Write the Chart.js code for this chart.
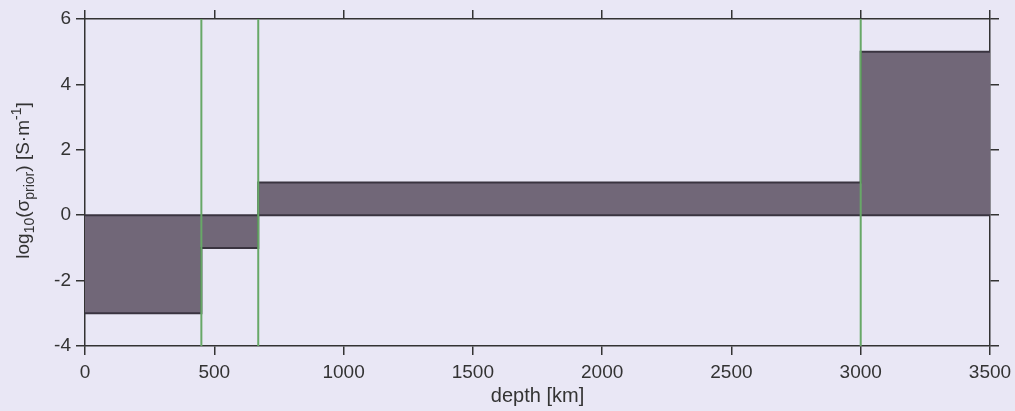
<!DOCTYPE html>
<html>
<head>
<meta charset="utf-8">
<script src="https://cdn.jsdelivr.net/npm/chart.js@4.4.1/dist/chart.umd.min.js"></script>
<style>
  html, body { margin: 0; padding: 0; background: #e9e7f5; }
  #wrap { width: 1015px; height: 411px; position: relative; }
</style>
</head>
<body>
<div id="wrap"><canvas id="c" width="1015" height="411"></canvas></div>
<script>
// ---- data ----
const depthBreaks = [0, 450, 670, 3000, 3500];      // km, start of each layer (last = end)
const logSigma    = [-3, -1, 1, 5, 5];              // log10(sigma_prior) of each layer
const boundaries  = [450, 670, 3000];               // discontinuity depths (green lines)
const xRange = [0, 3500];
const yRange = [-4, 6];
const xStep = 500;
const yStep = 2;
const xTitle = 'depth [km]';

const FONT = '"Liberation Sans", Arial, Helvetica, sans-serif';
const AXIS = '#333333';

const stepData = depthBreaks.map((d, i) => ({ x: d, y: logSigma[i] }));
const zeroData = [{ x: xRange[0], y: 0 }, { x: xRange[1], y: 0 }];

const datasets = [];
boundaries.forEach(b => {
  datasets.push({
    data: [{ x: b, y: yRange[0] }, { x: b, y: yRange[1] }],
    borderColor: '#67a867', borderWidth: 2, pointRadius: 0, fill: false, order: 0
  });
});
datasets.push({
  data: zeroData, borderColor: '#3a3440', borderWidth: 2, pointRadius: 0, fill: false, order: 1
});
datasets.push({
  data: stepData, stepped: true, borderColor: '#3a3440', borderWidth: 2,
  backgroundColor: '#716778', pointRadius: 0, fill: 'origin', order: 2
});

const bgPlugin = {
  id: 'bg',
  beforeDraw(chart) {
    const ctx = chart.ctx;
    ctx.save();
    ctx.fillStyle = '#e9e7f5';
    ctx.fillRect(0, 0, chart.width, chart.height);
    ctx.restore();
  }
};

// y-axis title with sub/superscripts
const yTitlePlugin = {
  id: 'ytitle',
  afterDraw(chart) {
    const ctx = chart.ctx;
    const main = 19, small = 14;
    const parts = [
      { t: 'log', s: main, dy: 0 },
      { t: '10', s: small, dy: 5 },
      { t: '(\u03C3', s: main, dy: 0 },
      { t: 'prior', s: small, dy: 5 },
      { t: ') [S\u00B7m', s: main, dy: 0 },
      { t: '-1', s: small, dy: -8 },
      { t: ']', s: main, dy: 0 }
    ];
    ctx.save();
    let total = 0;
    parts.forEach(p => { ctx.font = p.s + 'px ' + FONT; p.w = ctx.measureText(p.t).width; total += p.w; });
    const cy = (chart.chartArea.top + chart.chartArea.bottom) / 2;
    ctx.translate(29, cy - 2);
    ctx.rotate(-Math.PI / 2);
    ctx.fillStyle = AXIS;
    ctx.textBaseline = 'alphabetic';
    ctx.textAlign = 'left';
    let x = -total / 2;
    parts.forEach(p => {
      ctx.font = p.s + 'px ' + FONT;
      ctx.fillText(p.t, x, p.dy);
      x += p.w;
    });
    ctx.restore();
  }
};

const tickFont = { family: FONT, size: 19 };
const plainLabel = v => String(v);
const gridCommon = { drawOnChartArea: false, tickLength: 9, tickColor: AXIS, lineWidth: 1.5, tickWidth: 1.5 };
const borderCommon = { color: AXIS, width: 1.5 };

new Chart(document.getElementById('c'), {
  type: 'line',
  data: { datasets },
  plugins: [bgPlugin, yTitlePlugin],
  options: {
    responsive: false,
    animation: false,
    events: [],
    layout: { padding: 0 },
    plugins: { legend: { display: false }, tooltip: { enabled: false }, title: { display: false } },
    scales: {
      x: {
        type: 'linear', position: 'bottom', min: xRange[0], max: xRange[1],
        ticks: { stepSize: xStep, font: tickFont, color: AXIS, padding: 6, maxRotation: 0, autoSkip: false, callback: plainLabel },
        grid: gridCommon, border: borderCommon,
        title: { display: true, text: xTitle, font: { family: FONT, size: 20 }, color: AXIS, padding: { top: 0, bottom: 3 } },
        afterFit(s) { s.height = 65; s.paddingRight = 0; s.paddingLeft = 0; }
      },
      x2: {
        type: 'linear', position: 'top', min: xRange[0], max: xRange[1],
        ticks: { stepSize: xStep, display: false },
        grid: gridCommon, border: borderCommon,
        afterFit(s) { s.height = 19; s.paddingRight = 0; s.paddingLeft = 0; }
      },
      y: {
        type: 'linear', position: 'left', min: yRange[0], max: yRange[1],
        ticks: { stepSize: yStep, font: tickFont, color: AXIS, padding: 5, callback: plainLabel },
        grid: gridCommon, border: borderCommon,
        afterFit(s) { s.width = 85; s.paddingTop = 0; s.paddingBottom = 0; }
      },
      y2: {
        type: 'linear', position: 'right', min: yRange[0], max: yRange[1],
        ticks: { stepSize: yStep, display: false },
        grid: gridCommon, border: borderCommon,
        afterFit(s) { s.width = 25; s.paddingTop = 0; s.paddingBottom = 0; }
      }
    }
  }
});
</script>
</body>
</html>
